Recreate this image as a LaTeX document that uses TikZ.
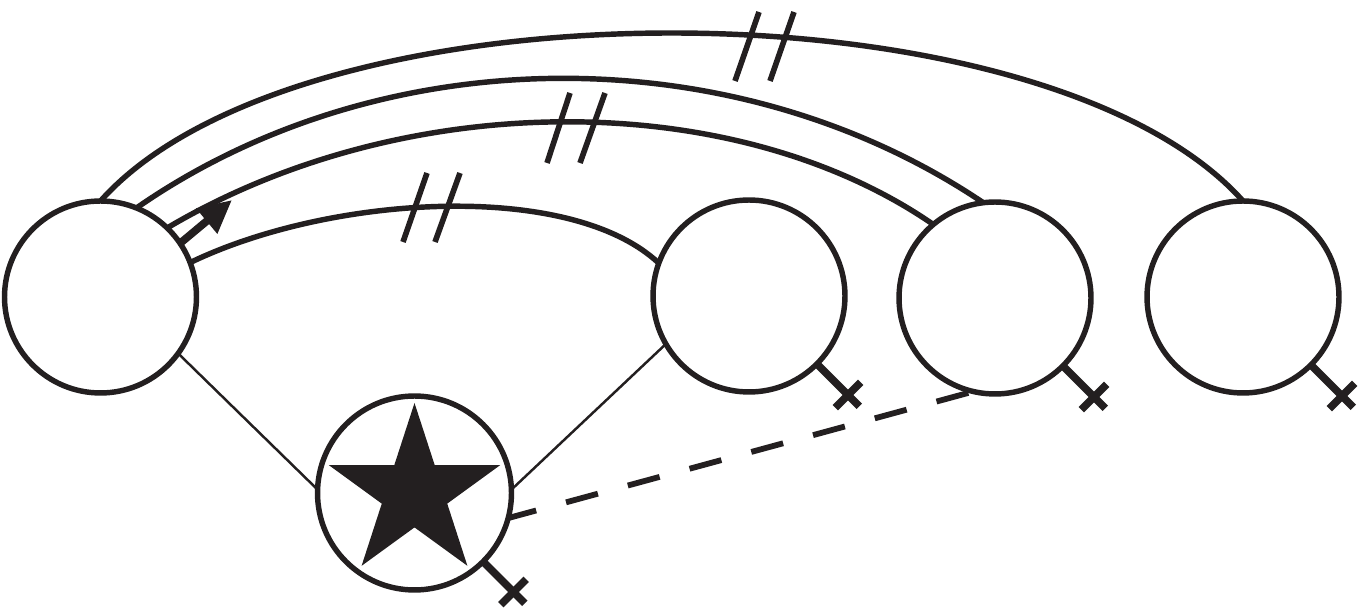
\documentclass[tikz,border=0pt]{standalone}
\usetikzlibrary{calc,arrows.meta}
\definecolor{ink}{HTML}{231F20}
\begin{document}
\begin{tikzpicture}[x=0.02cm,y=0.02cm,
  vert/.style={circle,draw=ink,line width=3.1pt,inner sep=0pt,outer sep=0pt,minimum size=3.84cm},
  arcline/.style={draw=ink,line width=3.1pt},
  thinline/.style={draw=ink,line width=1.4pt},
  dashedlink/.style={draw=ink,line width=3.3pt,dash pattern=on 0.66cm off 0.62cm,dash phase=0.08cm},
  slashmark/.style={draw=ink,line width=3.2pt},
  crossline/.style={draw=ink,line width=4.4pt},
  arrowline/.style={draw=ink,line width=4.4pt,-{Triangle[length=0.66cm,width=0.62cm]}}]
\useasboundingbox[fill=white] (0,0) rectangle (1372,611);
% vertices
\node[vert] (A) at (100.5,314) {};
\node[vert] (B) at (749,315) {};
\node[vert] (C) at (995,313) {};
\node[vert] (D) at (1243,314) {};
\node[vert,minimum size=3.88cm] (E) at (414.5,118) {};
% star
\begin{scope}[shift={(E.center)}]
  \fill[ink] (90:90) -- (126:34.4) -- (162:90) -- (198:34.4) -- (234:90) -- (270:34.4)
    -- (306:90) -- (342:34.4) -- (18:90) -- (54:34.4) -- cycle;
\end{scope}
% arcs
\draw[arcline] (A.90) .. controls (300,634) and (1043,634) .. (D.90);
\draw[arcline] (A.68.8) .. controls (384,575) and (736,575) .. (C.97);
\draw[arcline] (A.46.8) .. controls (405,524) and (734,524) .. (C.130.5);
\draw[arcline] (A.21.8) .. controls (330,416) and (570,431) .. (B.160);
% slashes
\draw[slashmark] (403,369) -- (427,438);
\draw[slashmark] (435,369) -- (460,438);
\draw[slashmark] (547,448) -- (570,518);
\draw[slashmark] (580,448) -- (605,518);
\draw[slashmark] (735,530) -- (759,599);
\draw[slashmark] (770,530) -- (794,599);
% arrow
\coordinate (arrowtip) at (232,411);
\draw[arrowline] (A.34) -- (arrowtip);
% thin links
\draw[thinline] (A.-36.4) -- (E.178);
\draw[thinline] (B.210) -- (E.2);
% dashed link
\draw[dashedlink] (E.-15) -- (C.-103);
% crosses
\foreach \n in {B,C,D,E}{
  \draw[crossline] (\n.-45) -- ($(\n.center)+(-45:156)$);
  \draw[crossline] ($(\n.center)+(-45:140)+(45:18)$) -- ($(\n.center)+(-45:140)+(-135:18)$);
}
\end{tikzpicture}
\end{document}
